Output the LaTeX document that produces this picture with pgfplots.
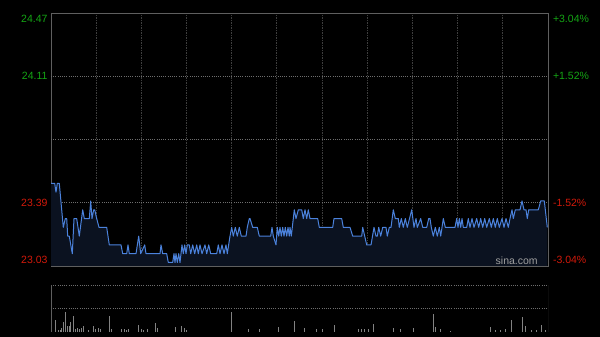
\documentclass[border=0pt]{standalone}
\usepackage{pgfplots}
\pgfplotsset{compat=1.18}
\usepackage{pgfplotstable}
\usepackage{fontspec}
\setmainfont{Liberation Sans}
\definecolor{upg}{RGB}{20,165,20}
\definecolor{dnr}{RGB}{210,25,10}
\definecolor{linec}{RGB}{75,130,220}
\definecolor{fillc}{RGB}{11,18,32}
\definecolor{framec}{RGB}{95,95,95}
\definecolor{vgridc}{RGB}{62,62,62}
\definecolor{hgridc}{RGB}{110,110,110}
\definecolor{volc}{RGB}{130,130,130}

% x = pixel offset from session start (0..497), y = price
\pgfplotstableread{
x y
0 23.50
3.7 23.50
5 23.45
6.3 23.50
8.3 23.50
12.3 23.25
14.3 23.30
15.7 23.30
16.7 23.20
18.3 23.20
21.3 23.10
23 23.30
25.7 23.30
28.3 23.20
31.7 23.35
33.3 23.30
38.3 23.30
39.7 23.40
41 23.30
42.7 23.35
43.7 23.35
45.7 23.30
48 23.25
55.7 23.25
58.3 23.15
70 23.15
71.7 23.10
75.7 23.10
77 23.15
78.3 23.10
85 23.10
87.7 23.20
89.7 23.10
93.7 23.15
95 23.10
109 23.10
110 23.15
111.7 23.10
115.7 23.10
117.3 23.05
121.7 23.05
123 23.10
124 23.05
125 23.10
126.3 23.05
127.7 23.10
129 23.05
131 23.15
132.3 23.10
133.7 23.15
135 23.10
136.3 23.15
138.3 23.15
139.7 23.10
141.7 23.15
143.7 23.10
145.7 23.15
147.3 23.10
149 23.15
151 23.10
154 23.15
155.7 23.10
157.7 23.15
159.7 23.10
165.7 23.10
167.3 23.15
169 23.10
171 23.15
173 23.10
175 23.15
176.3 23.10
179 23.20
180.7 23.25
182.3 23.20
184.3 23.25
186.3 23.20
188.3 23.25
190.3 23.20
195 23.20
196.3 23.25
198.3 23.30
199 23.30
201.7 23.25
206.3 23.25
208.3 23.20
219.7 23.20
221 23.25
222.3 23.20
225 23.15
226.3 23.25
227.7 23.20
229 23.25
230.3 23.20
231.7 23.25
233 23.20
234.3 23.25
235.7 23.20
237 23.25
238.3 23.20
239 23.25
240.3 23.20
243.3 23.35
245 23.30
247.3 23.35
250.7 23.35
252.3 23.30
254 23.35
255.7 23.30
257.3 23.35
259 23.30
266.7 23.30
268.3 23.25
281.7 23.25
283 23.30
290.7 23.30
292.3 23.25
299 23.25
301.7 23.20
310.7 23.20
311.7 23.25
313.7 23.20
315.7 23.15
320 23.15
323 23.25
325 23.20
326.3 23.20
327.7 23.25
329.7 23.20
331.7 23.25
335 23.25
336.3 23.20
338.3 23.25
340 23.25
342.3 23.35
344.3 23.30
347.3 23.30
348.3 23.25
350.3 23.30
352.3 23.25
354.3 23.30
356.3 23.25
360.7 23.35
363 23.25
365 23.30
366.3 23.25
369.7 23.30
371.7 23.25
375.7 23.25
377.7 23.30
379 23.30
380.3 23.25
382.3 23.20
384.3 23.25
386.3 23.20
388.3 23.25
389.7 23.20
392.3 23.30
394.3 23.25
404 23.25
405.7 23.30
407 23.25
408.3 23.30
409.7 23.25
411 23.30
412.3 23.25
415.7 23.25
417.3 23.30
419 23.25
421 23.30
423 23.25
425.7 23.30
427.7 23.25
429.7 23.30
431.7 23.25
433.7 23.30
435.7 23.25
438.3 23.30
440.3 23.25
442.3 23.30
444.3 23.25
446.3 23.30
448.3 23.25
451 23.30
453 23.25
455 23.30
457.3 23.25
459 23.30
461 23.35
462.3 23.30
464.3 23.35
469 23.35
471 23.40
473 23.35
475 23.35
476.3 23.30
477.7 23.35
487.3 23.35
489.7 23.40
493.3 23.40
496.3 23.25
}\price

\pgfplotstableread{
x v
0.7 12.4
4.3 12
7 2
9 2
10.7 4
12.3 10
14.3 20
16 6
18 6
19.7 10
22.3 16
24 3
26 4
28 3
30.7 4
32.3 6
37 2
42.3 6
44 3
47.3 4
49 3
58 15.7
60 3
70.7 3
73 3
75 2
77.3 3
87.3 7
90 3
92 2
96 3
104.7 9
106.3 4
124.7 5
130.7 6
133 4
135.7 2
180 20
197.3 3
208 3
227.3 5
243 10.7
253 4
265.7 3
271.7 3
283 7
307 3
310 3
313 3
317 3
322.3 8
342.3 4
349.7 3
362.3 4
382.3 17.4
384.3 5
389 3
399 1
439.7 5
444 2
449 2
454.7 3
460 12.4
471.3 15
474.7 5.7
480 2
485 2
490.3 7
494 2
}\volume

\begin{document}
\begin{tikzpicture}
\fill[black] (0,0) rectangle (600bp,337bp);
% main price panel
\begin{axis}[
  at={(51bp,71bp)}, anchor=south west, scale only axis,
  width=497bp, height=253bp,
  xmin=0, xmax=497, ymin=23.03, ymax=24.47,
  axis line style={framec, line width=0.9bp},
  xtick={45.18,90.36,135.55,180.73,225.91,271.09,316.27,361.45,406.64,451.82},
  xticklabels={},
  xmajorgrids,
  major x grid style={vgridc, dash pattern=on 1.5bp off 1bp, line width=0.9bp},
  major tick length=0pt,
  ytick={23.066,23.39,24.11,24.436},
  yticklabels={\textcolor{dnr}{23.03},\textcolor{dnr}{23.39},\textcolor{upg}{24.11},\textcolor{upg}{24.47}},
  yticklabel style={font=\fontsize{10.5bp}{12bp}\selectfont},
  extra y ticks={23.39,23.75,24.11},
  extra y tick labels={},
  extra y tick style={ymajorgrids=true, major grid style={hgridc, dash pattern=on 1bp off 1.2bp, line width=0.8bp}},
  /pgf/number format/assume math mode=true,
]
\addplot[draw=none, fill=fillc] table {\price} \closedcycle;
\addplot[linec, line width=1bp, line join=round] table {\price};
\node[text=gray!75, font=\fontsize{10.5bp}{12bp}\selectfont] at (rel axis cs:0.937,0.021) {sina.com};
\end{axis}
% right percentage labels
\begin{axis}[
  at={(51bp,71bp)}, anchor=south west, scale only axis,
  width=497bp, height=253bp,
  xmin=0, xmax=497, ymin=23.03, ymax=24.47,
  axis line style={draw=none},
  xtick=\empty,
  major tick length=0pt,
  yticklabel pos=right,
  ytick={23.066,23.39,24.11,24.436},
  yticklabels={\textcolor{dnr}{-3.04\%},\textcolor{dnr}{-1.52\%},\textcolor{upg}{+1.52\%},\textcolor{upg}{+3.04\%}},
  yticklabel style={font=\fontsize{10.5bp}{12bp}\selectfont, xshift=1.5bp},
]
\addplot[draw=none] coordinates {(0,23.75)};
\end{axis}
% volume panel
\begin{axis}[
  at={(51bp,5bp)}, anchor=south west, scale only axis,
  width=497bp, height=47bp,
  xmin=0, xmax=497, ymin=0, ymax=46.7,
  axis lines=none,
]
\addplot[ycomb, volc, line width=0.8bp, mark=none] table {\volume};
\draw[hgridc, dash pattern=on 1bp off 1.2bp, line width=0.8bp] (rel axis cs:0,1) -- (rel axis cs:1,1);
\draw[hgridc, dash pattern=on 1bp off 1.2bp, line width=0.8bp] (rel axis cs:0,0.5) -- (rel axis cs:1,0.5);
\draw[framec, line width=0.9bp] (rel axis cs:0,1) -- (rel axis cs:0,0) -- (rel axis cs:1,0) -- (rel axis cs:1,1);
\end{axis}
\end{tikzpicture}
\end{document}
